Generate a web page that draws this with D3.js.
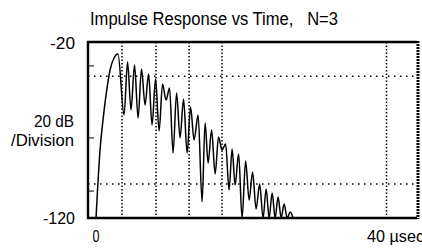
<!DOCTYPE html>
<html>
<head>
<meta charset="utf-8">
<title>Impulse Response vs Time</title>
<script src="https://cdn.jsdelivr.net/npm/d3@7"></script>
<style>
    body { margin: 0; background: #fff; }
    text { font-family: "Liberation Sans Narrow", "Arial Narrow", "Liberation Sans", sans-serif; fill: #000; }
</style>
</head>
<body>
<svg id="canvas"></svg>
<script>
// Trace: time in usec, level in dB
const timeUs = [0, 0.12, 0.5, 0.87, 1.25, 1.75, 2.24, 2.74,
    3.49, 3.93, 4.36, 4.8, 5.24, 5.67, 6.11, 6.55, 6.98, 7.42, 7.86, 8.29,
    8.73, 9.16, 9.6, 10.04, 10.47, 10.91, 11.35, 11.78, 12.22, 12.72, 13.22, 13.59,
    13.97, 14.4, 14.84, 15.27, 15.71, 16.15, 16.58, 16.96, 17.33, 17.77, 18.2, 18.64,
    19.08, 19.51, 19.95, 20.39, 20.82, 21.2, 21.57, 21.95, 22.32, 22.69, 23.07, 23.44,
    23.82, 24.19, 24.56]
const levelDb = [-120, -109.8, -81.4, -64.3, -50.1, -35.9, -29.1, -26.8,
    -61.5, -31.4, -58.6, -33.1, -63.2, -35.3, -55.8, -38.2, -67.2, -41.0, -70.6, -43.9,
    -53.0, -46.1, -83.1, -49.0, -74.5, -52.4, -83.1, -56.9, -75.7, -61.5, -110.9, -66.0,
    -88.8, -70.0, -95.0, -74.0, -81.4, -78.0, -104.1, -80.8, -101.3, -83.6, -120, -87.6,
    -109.8, -93.9, -114.9, -100.7, -120, -103.5, -120, -105.8, -120, -108.1, -120, -112.0,
    -120, -116.6, -120]

const yLabels = ['-20', '-120']
const xLabels = ['0', '40 µsec']
const vGrid = [3.24, 7.48, 11.6, 15.7, 36.2]
const hGrid = [-39.5, -100.7]
const leftTicks = [-33.6, -74.5, -104.7]

let points = timeUs.map((t, i) => [t, levelDb[i]])

// Canvas setup
let svg = d3.select('#canvas')
let width = 422
let height = 248
svg.attr('width', width)
svg.attr('height', height)

// Define scales
let xScale = d3.scaleLinear()
    .domain([-1, 40])
    .range([88, 417])

let yScale = d3.scaleLinear()
    .domain([-20, -120])
    .range([42, 218])

// helper for the narrow lettering of the original
let label = (x, y, txt, size, len, anchor) => {
    return svg.append('text')
        .attr('x', x)
        .attr('y', y)
        .attr('text-anchor', anchor)
        .attr('textLength', len)
        .attr('lengthAdjust', 'spacingAndGlyphs')
        .style('font-size', size + 'px')
        .style('white-space', 'pre')
        .text(txt)
}

// Title
label(90, 25, 'Impulse Response vs Time,   N=3', 18, 248, 'start')

// Dotted grid
svg.selectAll('.vgrid')
    .data(vGrid)
    .enter()
    .append('line')
    .attr('class', 'vgrid')
    .attr('x1', (d) => xScale(d))
    .attr('x2', (d) => xScale(d))
    .attr('y1', yScale(-20))
    .attr('y2', yScale(-120))
    .attr('stroke', '#000')
    .attr('stroke-width', 1.5)
    .attr('stroke-dasharray', '1.5,2')

svg.selectAll('.hgrid')
    .data(hGrid)
    .enter()
    .append('line')
    .attr('class', 'hgrid')
    .attr('x1', xScale(-1))
    .attr('x2', xScale(40))
    .attr('y1', (d) => yScale(d))
    .attr('y2', (d) => yScale(d))
    .attr('stroke', '#000')
    .attr('stroke-width', 1.5)
    .attr('stroke-dasharray', '1.5,4.5')

// Small inward ticks on the left edge
svg.selectAll('.ltick')
    .data(leftTicks)
    .enter()
    .append('line')
    .attr('class', 'ltick')
    .attr('x1', xScale(-1))
    .attr('x2', xScale(-1) + 6)
    .attr('y1', (d) => yScale(d))
    .attr('y2', (d) => yScale(d))
    .attr('stroke', '#000')
    .attr('stroke-width', 1)

// The trace
let line = d3.line()
    .x((d) => xScale(d[0]))
    .y((d) => yScale(d[1]))
    .curve(d3.curveMonotoneX)

svg.append('path')
    .datum(points)
    .attr('d', line)
    .attr('fill', 'none')
    .attr('stroke', '#000')
    .attr('stroke-width', 1.5)

// Frame
let frame = svg.append('g')
frame.append('path')
    .attr('d', 'M' + xScale(40) + ',' + yScale(-20) + 'H' + xScale(-1) + 'V' + yScale(-120) + 'H' + xScale(40))
    .attr('fill', 'none')
    .attr('stroke', '#000')
    .attr('stroke-width', 2.4)
frame.append('line')
    .attr('x1', xScale(40) + 1)
    .attr('x2', xScale(40) + 1)
    .attr('y1', yScale(-20) - 1)
    .attr('y2', yScale(-120) + 1)
    .attr('stroke', '#000')
    .attr('stroke-width', 3)
    .attr('stroke-dasharray', '2,1')

// Axis texts
label(75, yScale(-20) + 7, yLabels[0], 16, 32 * 0.78, 'end')
label(75, yScale(-120) + 6, yLabels[1], 16, 32, 'end')
label(74, 127, '20 dB', 16, 40, 'end')
label(74, 146, '/Division', 16, 63, 'end')
label(xScale(0), 242, xLabels[0], 16, 7, 'middle')
label(367, 242, xLabels[1], 16, 57, 'start')
</script>
</body>
</html>
